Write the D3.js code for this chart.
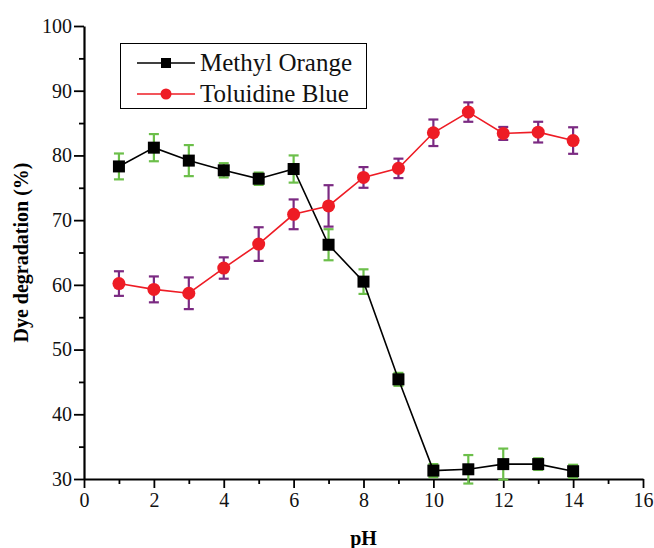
<!DOCTYPE html>
<html>
<head>
<meta charset="utf-8">
<script src="https://cdn.jsdelivr.net/npm/d3@7"></script>
<style>
  body { margin: 0; background: #fff; }
  text { font-family: "Liberation Serif", "Times New Roman", serif; }
</style>
</head>
<body>
<div id="chart"></div>
<script>
// pH values shared by both series
const phValues = [1, 2, 3, 4, 5, 6, 7, 8, 9, 10, 11, 12, 13, 14];

// Methyl Orange degradation (%) and error
const moValues = [78.3, 81.2, 79.2, 77.7, 76.4, 77.9, 66.2, 60.5, 45.4, 31.3, 31.5, 32.3, 32.3, 31.2];
const moErrors = [2.0, 2.1, 2.4, 1.1, 0.95, 2.1, 2.4, 1.9, 1.0, 1.0, 2.2, 2.4, 0.9, 1.0];

// Toluidine Blue degradation (%) and error
const tbValues = [60.2, 59.3, 58.7, 62.6, 66.3, 70.9, 72.2, 76.6, 78.0, 83.5, 86.7, 83.4, 83.6, 82.3];
const tbErrors = [1.9, 2.0, 2.45, 1.65, 2.6, 2.3, 3.2, 1.6, 1.5, 2.05, 1.5, 1.0, 1.6, 2.05];

const xTicks = [0, 2, 4, 6, 8, 10, 12, 14, 16];
const yTicks = [30, 40, 50, 60, 70, 80, 90, 100];

const width = 654, height = 548;
const margin = { top: 26, right: 11, bottom: 69, left: 84 };

const svg = d3.select("#chart").append("svg")
    .attr("width", width)
    .attr("height", height);

const x = d3.scaleLinear().domain([0, 16]).range([margin.left, width - margin.right]);
const y = d3.scaleLinear().domain([30, 100]).range([height - margin.bottom, margin.top]);

// axes: major ticks + minor ticks
svg.append("g")
    .attr("transform", `translate(0,${y(30)})`)
    .call(d3.axisBottom(x).tickValues(xTicks).tickSize(9).tickSizeOuter(0).tickPadding(5));
svg.append("g")
    .attr("transform", `translate(0,${y(30)})`)
    .call(d3.axisBottom(x).tickValues(d3.range(1, 16, 2)).tickSize(5).tickFormat(""))
    .call(g => g.select(".domain").remove());

svg.append("g")
    .attr("transform", `translate(${x(0)},0)`)
    .call(d3.axisLeft(y).tickValues(yTicks).tickSize(10).tickSizeOuter(0).tickPadding(2));
svg.append("g")
    .attr("transform", `translate(${x(0)},0)`)
    .call(d3.axisLeft(y).tickValues(d3.range(35, 100, 10)).tickSize(5).tickFormat(""))
    .call(g => g.select(".domain").remove());

svg.selectAll(".domain").attr("stroke", "#000").attr("stroke-width", 2.2);
svg.selectAll(".tick line").attr("stroke", "#000").attr("stroke-width", 1.8);
svg.selectAll(".tick text")
    .attr("fill", "#111")
    .style("font-family", "'Liberation Serif', serif")
    .style("font-size", "20px");

// axis titles
svg.append("text")
    .attr("transform", `translate(28,${(y(30) + y(100)) / 2}) rotate(-90)`)
    .attr("text-anchor", "middle")
    .style("font-size", "20px")
    .style("font-weight", "bold")
    .text("Dye degradation (%)");
svg.append("text")
    .attr("x", x(8))
    .attr("y", 545)
    .attr("text-anchor", "middle")
    .style("font-size", "20px")
    .style("font-weight", "bold")
    .text("pH");

const moData = phValues.map((p, i) => ({ x: p, y: moValues[i], e: moErrors[i] }));
const tbData = phValues.map((p, i) => ({ x: p, y: tbValues[i], e: tbErrors[i] }));

function errorBars(data, color) {
    const g = svg.append("g").attr("stroke", color).attr("stroke-width", 2.2);
    g.selectAll("line.v").data(data).join("line")
        .attr("x1", d => x(d.x)).attr("x2", d => x(d.x))
        .attr("y1", d => y(d.y - d.e)).attr("y2", d => y(d.y + d.e));
    [1, -1].forEach(s => {
        g.selectAll(null).data(data).join("line")
            .attr("x1", d => x(d.x) - 5).attr("x2", d => x(d.x) + 5)
            .attr("y1", d => y(d.y + s * d.e)).attr("y2", d => y(d.y + s * d.e));
    });
}

const line = d3.line().x(d => x(d.x)).y(d => y(d.y));

// Methyl Orange
errorBars(moData, "#6cbf4a");
svg.append("path").datum(moData)
    .attr("d", line).attr("fill", "none").attr("stroke", "#000").attr("stroke-width", 1.6);
svg.selectAll("rect.mo").data(moData).join("rect")
    .attr("x", d => x(d.x) - 6).attr("y", d => y(d.y) - 6)
    .attr("width", 12).attr("height", 12).attr("fill", "#000");

// Toluidine Blue
errorBars(tbData, "#7b2a82");
svg.append("path").datum(tbData)
    .attr("d", line).attr("fill", "none").attr("stroke", "#ee1c25").attr("stroke-width", 1.6);
svg.selectAll("circle.tb").data(tbData).join("circle")
    .attr("cx", d => x(d.x)).attr("cy", d => y(d.y))
    .attr("r", 6.5).attr("fill", "#ee1c25");

// legend
const legend = svg.append("g");
legend.append("rect")
    .attr("x", 120.5).attr("y", 43.5).attr("width", 246).attr("height", 65)
    .attr("fill", "#fff").attr("stroke", "#000").attr("stroke-width", 1);
const items = [
    { name: "Methyl Orange", color: "#000", shape: "square", cy: 63 },
    { name: "Toluidine Blue", color: "#ee1c25", shape: "circle", cy: 94 }
];
items.forEach(it => {
    legend.append("line")
        .attr("x1", 137).attr("x2", 195).attr("y1", it.cy).attr("y2", it.cy)
        .attr("stroke", it.color).attr("stroke-width", 1.6);
    if (it.shape === "square") {
        legend.append("rect").attr("x", 161).attr("y", it.cy - 5)
            .attr("width", 10).attr("height", 10).attr("fill", it.color);
    } else {
        legend.append("circle").attr("cx", 166).attr("cy", it.cy).attr("r", 5.5).attr("fill", it.color);
    }
    legend.append("text")
        .attr("x", 200).attr("y", it.cy + 8)
        .style("font-size", "25px")
        .attr("fill", "#111")
        .text(it.name);
});
</script>
</body>
</html>
